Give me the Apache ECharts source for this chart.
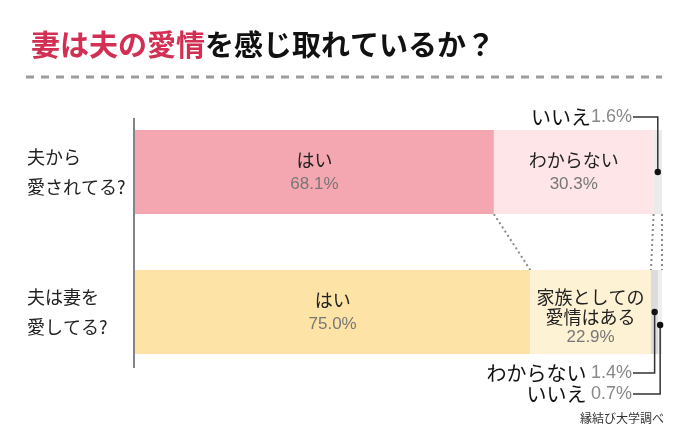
<!DOCTYPE html>
<html>
<head>
<meta charset="utf-8">
<script src="https://cdn.jsdelivr.net/npm/echarts@6/dist/echarts.min.js"></script>
<style>
  html, body { margin: 0; padding: 0; background: #fff; }
  #chart { width: 690px; height: 430px; }
</style>
</head>
<body>
<div id="chart"></div>
<script>
// 質問（カテゴリ）
var categories = ['夫から\n愛されてる?', '夫は妻を\n愛してる?'];

// 各回答の割合（%）: [夫から愛されてる?, 夫は妻を愛してる?]
var yesValues = [68.1, 75.0];
var midValues = [30.3, 22.9];
var thirdValues = [1.6, 1.4];
var fourthValues = [null, 0.7];

// 回答ラベル
var yesLabels = ['はい', 'はい'];
var midLabels = ['わからない', '家族としての\n愛情はある'];
var thirdLabels = ['いいえ', 'わからない'];
var fourthLabels = [null, 'いいえ'];

var JP = '"Noto Sans CJK JP", sans-serif';
var NUM = '"Liberation Sans", Arial, sans-serif';

// 色
var palette = [
  ['#F4A7B0', '#FDE5E8', '#EBEBEB', '#EBEBEB'],
  ['#FDE3A5', '#FEF2D5', '#DCDCDC', '#EEEEEE']
];

var richIn = {
  n: { fontFamily: JP, fontSize: 18, color: '#222', lineHeight: 24 },
  p: { fontFamily: NUM, fontSize: 17, color: '#777', lineHeight: 24 }
};

function buildData(values, labels, col, inside) {
  return values.map(function (v, i) {
    var item = { value: v, itemStyle: { color: palette[i][col] } };
    if (inside && v != null) {
      var lines = labels[i].split('\n');
      var multi = lines.length > 1;
      item.label = {
        show: true,
        position: 'inside',
        formatter: lines.map(function (l) { return '{n|' + l + '}'; }).join('\n') + '\n{p|' + v.toFixed(1) + '%}',
        rich: multi ? {
          n: { fontFamily: JP, fontSize: 18, color: '#222', lineHeight: 20 },
          p: { fontFamily: NUM, fontSize: 17, color: '#777', lineHeight: 20 }
        } : richIn,
        offset: multi ? [0, 5] : [0, 0]
      };
    }
    return item;
  });
}

var chart = echarts.init(document.getElementById('chart'), null, { renderer: 'canvas' });

var option = {
  animation: false,
  backgroundColor: '#fff',
  title: {
    left: 26,
    top: 25,
    text: '{r|妻は夫の愛情}{k|を感じ取れているか？}',
    textStyle: {
      rich: {
        r: { fontFamily: JP, fontSize: 29, fontWeight: 'bold', color: '#D22F52' },
        k: { fontFamily: JP, fontSize: 29, fontWeight: 'bold', color: '#111' }
      }
    }
  },
  grid: { left: 135, right: 28, top: 102, bottom: 48 },
  xAxis: { type: 'value', min: 0, max: 100, show: false },
  yAxis: {
    type: 'category',
    inverse: true,
    data: categories,
    axisLine: { show: false },
    axisTick: { show: false },
    axisLabel: {
      align: 'left',
      margin: 108,
      fontFamily: JP,
      fontSize: 18,
      lineHeight: 30,
      color: '#222'
    }
  },
  series: [
    { type: 'bar', stack: 'a', barWidth: 84, data: buildData(yesValues, yesLabels, 0, true) },
    { type: 'bar', stack: 'a', barWidth: 84, data: buildData(midValues, midLabels, 1, true) },
    { type: 'bar', stack: 'a', barWidth: 84, data: buildData(thirdValues, thirdLabels, 2, false) },
    { type: 'bar', stack: 'a', barWidth: 84, data: buildData(fourthValues, fourthLabels, 3, false) }
  ]
};
chart.setOption(option);

// 注釈（引き出し線・点線など）
function px(v, c) { return chart.convertToPixel({ gridIndex: 0 }, [v, c]); }
var halfBar = 42;
var g = [];

// 区切りの破線
g.push({ type: 'line', shape: { x1: 26, y1: 77, x2: 662, y2: 77 },
  style: { stroke: '#9C9C9C', lineWidth: 3, lineDash: [8, 7] } });

// 縦軸の線
var a0 = px(0, 0), a1 = px(0, 1);
g.push({ type: 'line', shape: { x1: a0[0] - 1, y1: a0[1] - halfBar - 12, x2: a0[0] - 1, y2: a1[1] + halfBar + 14 },
  style: { stroke: '#333', lineWidth: 1.2 } });

// 2本の棒をつなぐ点線
var cum0 = [yesValues[0], yesValues[0] + midValues[0], 100];
var cum1 = [yesValues[1], yesValues[1] + midValues[1], 100];
for (var k = 0; k < 3; k++) {
  var p0 = px(cum0[k], 0), p1 = px(cum1[k], 1);
  g.push({ type: 'line', shape: { x1: p0[0], y1: p0[1] + halfBar, x2: p1[0], y2: p1[1] - halfBar },
    style: { stroke: '#8A8A8A', lineWidth: 2, lineDash: [2, 3] } });
}

var textRight = 632;
function note(name, v, dot, ty) {
  g.push({ type: 'text', x: textRight, y: ty, z: 100,
    style: {
      text: '{n|' + name + '}{p|' + v.toFixed(1) + '%}',
      align: 'right', verticalAlign: 'middle',
      rich: {
        n: { fontFamily: JP, fontSize: 20, fill: '#111' },
        p: { fontFamily: NUM, fontSize: 18, fill: '#888' }
      }
    } });
  g.push({ type: 'polyline', z: 100, shape: { points: [[textRight + 1, ty], [dot[0], ty], [dot[0], dot[1]]] },
    style: { stroke: '#333', lineWidth: 1.5, fill: null } });
  g.push({ type: 'circle', z: 101, shape: { cx: dot[0], cy: dot[1], r: 3.2 }, style: { fill: '#111' } });
}

// 夫から愛されてる? いいえ
var d = px(yesValues[0] + midValues[0] + thirdValues[0] / 2, 0);
note(thirdLabels[0], thirdValues[0], d, d[1] - halfBar - 13);
// 夫は妻を愛してる? わからない / いいえ
var d2 = px(yesValues[1] + midValues[1] + thirdValues[1] / 2, 1);
note(thirdLabels[1] + ' ', thirdValues[1], d2, d2[1] + halfBar + 19);
var d3 = px(yesValues[1] + midValues[1] + thirdValues[1] + fourthValues[1] / 2, 1);
note(fourthLabels[1] + ' ', fourthValues[1], [d3[0], d3[1] + 13], d3[1] + halfBar + 40);

// 出典
g.push({ type: 'text', x: 664, y: 418,
  style: { text: '縁結び大学調べ', align: 'right', verticalAlign: 'middle',
    font: '12px "Noto Sans CJK JP", sans-serif', fill: '#333' } });

chart.setOption({ graphic: g });
</script>
</body>
</html>
